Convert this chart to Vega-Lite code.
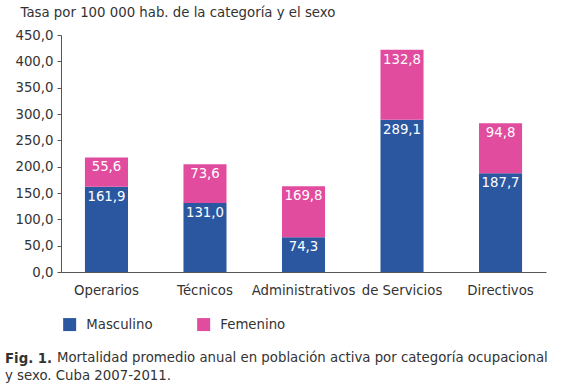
{
  "$schema": "https://vega.github.io/schema/vega-lite/v6.json",
  "width": 485,
  "height": 237,
  "autosize": {"type": "none"},
  "padding": {"left": 61, "top": 35, "right": 35, "bottom": 113},
  "background": "white",
  "config": {
    "locale": {"number": {"decimal": ",", "thousands": " ", "grouping": [3], "currency": ["", ""]}},
    "font": "DejaVu Sans",
    "view": {"stroke": null}
  },
  "title": {
    "text": "Fig. 1.",
    "subtitle": "y sexo. Cuba 2007-2011.",
    "orient": "bottom",
    "anchor": "start",
    "frame": "group",
    "dx": -56,
    "dy": -11,
    "fontSize": 13.3,
    "fontWeight": "bold",
    "color": "#333333",
    "subtitleFontSize": 13.3,
    "subtitleColor": "#333333",
    "subtitlePadding": 3,
    "offset": 0
  },
  "data": {
    "values": [
      {"categoria": "Operarios", "sexo": "Masculino", "valor": 161.9, "etiqueta": "161,9"},
      {"categoria": "Operarios", "sexo": "Femenino", "valor": 55.6, "etiqueta": "55,6"},
      {"categoria": "Técnicos", "sexo": "Masculino", "valor": 131.0, "etiqueta": "131,0"},
      {"categoria": "Técnicos", "sexo": "Femenino", "valor": 73.6, "etiqueta": "73,6"},
      {"categoria": "Administrativos", "sexo": "Masculino", "valor": 66.0, "etiqueta": "74,3"},
      {"categoria": "Administrativos", "sexo": "Femenino", "valor": 97.0, "etiqueta": "169,8"},
      {"categoria": "de Servicios", "sexo": "Masculino", "valor": 289.1, "etiqueta": "289,1"},
      {"categoria": "de Servicios", "sexo": "Femenino", "valor": 132.8, "etiqueta": "132,8"},
      {"categoria": "Directivos", "sexo": "Masculino", "valor": 187.7, "etiqueta": "187,7"},
      {"categoria": "Directivos", "sexo": "Femenino", "valor": 94.8, "etiqueta": "94,8"}
    ]
  },
  "transform": [
    {"stack": "valor", "groupby": ["categoria"], "sort": [{"field": "sexo", "order": "descending"}], "as": ["v0", "v1"]}
  ],
  "encoding": {
    "x": {
      "field": "categoria",
      "type": "nominal",
      "sort": null,
      "scale": {"paddingInner": 0.563, "paddingOuter": 0.243},
      "axis": {
        "labelAngle": 0,
        "ticks": false,
        "labelPadding": 11,
        "labelFontSize": 13.3,
        "labelColor": "#333333",
        "labelOverlap": false,
        "domainColor": "#555555",
        "title": "Mortalidad promedio anual en población activa por categoría ocupacional",
        "titleX": -4.5,
        "titleY": 85,
        "titleAlign": "left",
        "titleBaseline": "middle",
        "titleFontSize": 13.3,
        "titleFontWeight": "normal",
        "titleColor": "#333333"
      }
    },
    "y": {
      "field": "v1",
      "type": "quantitative",
      "scale": {"domain": [0, 450], "nice": false},
      "axis": {
        "values": [0, 50, 100, 150, 200, 250, 300, 350, 400, 450],
        "tickCount": 10,
        "format": ".1f",
        "grid": false,
        "tickSize": 4,
        "labelPadding": 4,
        "labelFontSize": 13.3,
        "labelColor": "#333333",
        "labelOverlap": false,
        "labelFlush": false,
        "labelBound": false,
        "domainColor": "#555555",
        "tickColor": "#555555",
        "title": "Tasa por 100 000 hab. de la categoría y el sexo",
        "titleAngle": 0,
        "titleX": -41,
        "titleY": -23,
        "titleAlign": "left",
        "titleAnchor": "start",
        "titleBaseline": "middle",
        "titleFontSize": 13.3,
        "titleFontWeight": "normal",
        "titleColor": "#333333"
      }
    }
  },
  "layer": [
    {
      "mark": {"type": "bar"},
      "encoding": {
        "y2": {"field": "v0"},
        "color": {
          "field": "sexo",
          "type": "nominal",
          "scale": {"domain": ["Masculino", "Femenino"], "range": ["#2B57A0", "#E14C9F"]},
          "legend": {
            "title": null,
            "orient": "none",
            "legendX": 2,
            "legendY": 282.5,
            "direction": "horizontal",
            "columns": 2,
            "symbolType": "square",
            "symbolSize": 169,
            "symbolStrokeWidth": 0,
            "labelFontSize": 13.3,
            "labelColor": "#333333",
            "labelOffset": 10,
            "columnPadding": 44,
            "padding": 0
          }
        }
      }
    },
    {
      "mark": {"type": "text", "baseline": "top", "dy": 3, "color": "white", "fontSize": 13.3},
      "encoding": {
        "text": {"field": "etiqueta"}
      }
    }
  ]
}
